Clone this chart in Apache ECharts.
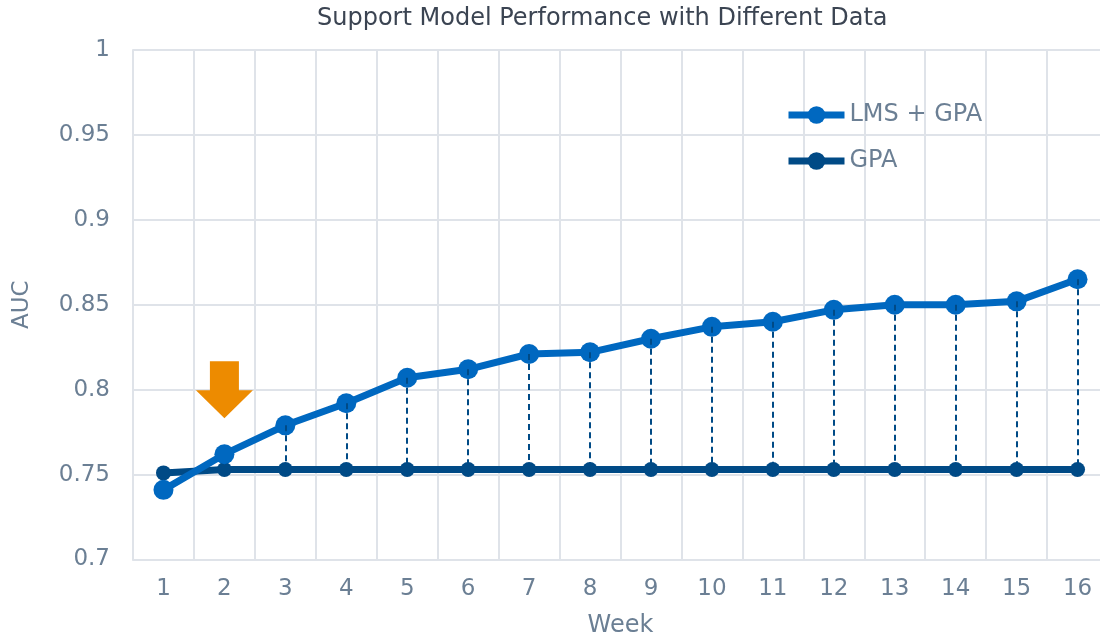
<!DOCTYPE html>
<html>
<head>
<meta charset="utf-8">
<script src="https://cdn.jsdelivr.net/npm/echarts@6/dist/echarts.min.js"></script>
<style>
  html, body { margin: 0; padding: 0; background: #fff; }
  #chart { width: 1100px; height: 635px; }
</style>
</head>
<body>
<div id="chart"></div>
<script>
// data
const weeks = ['1', '2', '3', '4', '5', '6', '7', '8', '9', '10', '11', '12', '13', '14', '15', '16']
const lmsGpa = [0.741, 0.762, 0.779, 0.792, 0.807, 0.812, 0.821, 0.822, 0.830, 0.837, 0.840, 0.847, 0.850, 0.850, 0.852, 0.865]
const gpaOnly = [0.751, 0.753, 0.753, 0.753, 0.753, 0.753, 0.753, 0.753, 0.753, 0.753, 0.753, 0.753, 0.753, 0.753, 0.753, 0.753]
const dropFrom = 2 // dashed gaps drawn from week 3 onward
const arrowWeek = '2'
const arrowValue = 0.8

const fontFamily = 'DejaVu Sans'
const labelColor = '#6b7f94'
const gridColor = '#dfe3e9'
const lmsColor = '#0068c0'
const gpaColor = '#004a86'

const gapLines = []
for (let i = dropFrom; i < weeks.length; i++) {
  gapLines.push([
    { coord: [weeks[i], lmsGpa[i]] },
    { coord: [weeks[i], gpaOnly[i]] }
  ])
}

const chart = echarts.init(document.getElementById('chart'))
chart.setOption({
  animation: false,
  textStyle: { fontFamily },
  title: {
    text: 'Support Model Performance with Different Data',
    left: 312,
    top: 2,
    textStyle: { fontFamily, fontSize: 24, fontWeight: 'normal', color: '#3b4452' }
  },
  legend: {
    orient: 'vertical',
    left: 780,
    top: 98,
    itemWidth: 56,
    itemHeight: 22,
    itemGap: 22,
    textStyle: { fontFamily, fontSize: 24, color: labelColor },
    lineStyle: { width: 7 },
    data: ['LMS + GPA', 'GPA']
  },
  grid: { left: 133, top: 50, width: 975, bottom: 75.5, containLabel: false, outerBoundsMode: 'none' },
  xAxis: {
    type: 'category',
    data: weeks,
    boundaryGap: true,
    name: 'Week',
    nameLocation: 'middle',
    nameGap: 54,
    nameTextStyle: { fontFamily, fontSize: 24, color: labelColor },
    axisLine: { lineStyle: { color: gridColor, width: 2 } },
    axisTick: { show: false },
    axisLabel: { fontFamily, fontSize: 23, color: labelColor, margin: 18 },
    splitLine: { show: true, lineStyle: { color: gridColor, width: 2 } }
  },
  yAxis: {
    type: 'value',
    min: 0.7,
    max: 1,
    interval: 0.05,
    name: 'AUC',
    nameLocation: 'middle',
    nameGap: 99,
    nameTextStyle: { fontFamily, fontSize: 23, color: labelColor },
    axisLine: { show: true, lineStyle: { color: gridColor, width: 2 } },
    axisTick: { show: false },
    axisLabel: { fontFamily, fontSize: 23, color: labelColor, margin: 23 },
    splitLine: { lineStyle: { color: gridColor, width: 2 } }
  },
  series: [
    {
      name: 'GPA',
      type: 'line',
      data: gpaOnly,
      symbol: 'circle',
      symbolSize: 15,
      lineStyle: { color: gpaColor, width: 7 },
      itemStyle: { color: gpaColor },
      z: 2,
      markLine: {
        silent: true,
        symbol: 'none',
        label: { show: false },
        lineStyle: { color: gpaColor, width: 2, type: [6, 4] },
        data: gapLines
      }
    },
    {
      name: 'LMS + GPA',
      type: 'line',
      data: lmsGpa,
      symbol: 'circle',
      symbolSize: 20,
      lineStyle: { color: lmsColor, width: 7 },
      itemStyle: { color: lmsColor },
      z: 3,
      markPoint: {
        silent: true,
        symbol: 'path://M14,0 L43,0 L43,29 L57,29 L28.5,57 L0,29 L14,29 Z',
        symbolSize: [57, 57],
        symbolKeepAspect: true,
        itemStyle: { color: '#ed8b00' },
        label: { show: false },
        data: [{ coord: [arrowWeek, arrowValue] }]
      }
    }
  ]
})
</script>
</body>
</html>
